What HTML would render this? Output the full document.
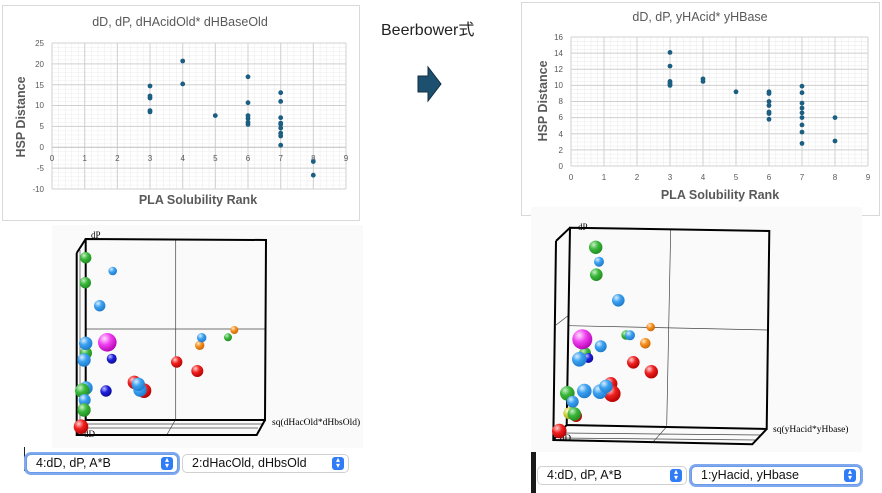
<!DOCTYPE html>
<html><head><meta charset="utf-8"><style>
body{margin:0;background:#fff;width:882px;height:493px;overflow:hidden;position:relative;font-family:"Liberation Sans","Noto Sans CJK JP",sans-serif}
.sel{position:absolute;height:17px;border:1px solid #d0d0d0;border-radius:5px;background:#fff;font-size:12.5px;line-height:17px;padding-left:9px;box-sizing:content-box;color:#111}
.sel.f{box-shadow:0 0 0 2px #7fa8ee;border-color:#6a9be8}
.sel i{position:absolute;right:4px;top:2px;width:12px;height:13px;background:#2f7cf6;border-radius:3px;color:#fff;font-size:8px;line-height:6px;text-align:center;font-style:normal}
</style></head><body>
<svg width="882" height="493" style="position:absolute;left:0;top:0" font-family="Liberation Sans, sans-serif">
<defs>
<pattern id="gl" x="52" y="43" width="6.533" height="4.171" patternUnits="userSpaceOnUse"><path d="M0 0V4.171M0 0H6.533" stroke="#e6e6e6" stroke-width="0.8" fill="none"/></pattern>
<pattern id="gr" x="571" y="37" width="6.6" height="4.03" patternUnits="userSpaceOnUse"><path d="M0 0V4.03M0 0H6.6" stroke="#e6e6e6" stroke-width="0.8" fill="none"/></pattern>
<radialGradient id="cg" cx="0.35" cy="0.3" r="0.75"><stop offset="0" stop-color="#c8f0c8"/><stop offset="0.45" stop-color="#3cb83c"/><stop offset="1" stop-color="#1e8a1e"/></radialGradient>
<radialGradient id="cb" cx="0.35" cy="0.3" r="0.75"><stop offset="0" stop-color="#d8eeff"/><stop offset="0.45" stop-color="#3aa0f0"/><stop offset="1" stop-color="#1e78c8"/></radialGradient>
<radialGradient id="cd" cx="0.35" cy="0.3" r="0.75"><stop offset="0" stop-color="#c0c0ff"/><stop offset="0.45" stop-color="#2020e0"/><stop offset="1" stop-color="#0a0a90"/></radialGradient>
<radialGradient id="cr" cx="0.35" cy="0.3" r="0.75"><stop offset="0" stop-color="#ffd0d0"/><stop offset="0.45" stop-color="#f02020"/><stop offset="1" stop-color="#b00000"/></radialGradient>
<radialGradient id="co" cx="0.35" cy="0.3" r="0.75"><stop offset="0" stop-color="#ffe8c8"/><stop offset="0.45" stop-color="#f59020"/><stop offset="1" stop-color="#c86400"/></radialGradient>
<radialGradient id="cm" cx="0.35" cy="0.3" r="0.75"><stop offset="0" stop-color="#ffe0ff"/><stop offset="0.45" stop-color="#f040f0"/><stop offset="1" stop-color="#b000b0"/></radialGradient>
<radialGradient id="cy" cx="0.35" cy="0.3" r="0.75"><stop offset="0" stop-color="#ffffd0"/><stop offset="0.45" stop-color="#d0d040"/><stop offset="1" stop-color="#a0a020"/></radialGradient>
</defs>

<rect x="2.5" y="5.5" width="357" height="215" fill="#fff" stroke="#d9d9d9"/>
<text x="180" y="26" font-size="12.5" fill="#595959" text-anchor="middle">dD, dP, dHAcidOld* dHBaseOld</text>
<rect x="52" y="43" width="294" height="146" fill="url(#gl)"/>
<g stroke="#d0d0d0" stroke-width="1">
<path d="M52 43H346M52 63.85H346M52 84.7H346M52 105.55H346M52 126.4H346M52 168.1H346M52 189H346"/>
<path d="M84.7 43V189M117.3 43V189M150 43V189M182.7 43V189M215.3 43V189M248 43V189M280.7 43V189M313.3 43V189M346 43V189M52 43V189"/>
</g>
<path d="M52 147.3H346" stroke="#bfbfbf"/>
<g font-size="8" fill="#595959" text-anchor="end">
<text x="44" y="46">25</text><text x="44" y="67">20</text><text x="44" y="88">15</text><text x="44" y="108">10</text><text x="44" y="129">5</text><text x="44" y="150">0</text><text x="44" y="171">-5</text><text x="44" y="192">-10</text>
</g>
<g font-size="8" fill="#595959" text-anchor="middle">
<text x="52" y="161">0</text><text x="84.7" y="161">1</text><text x="117.3" y="161">2</text><text x="150" y="161">3</text><text x="182.7" y="161">4</text><text x="215.3" y="161">5</text><text x="248" y="161">6</text><text x="280.7" y="161">7</text><text x="313.3" y="161">8</text><text x="346" y="161">9</text>
</g>
<text x="198" y="204" font-size="12.5" font-weight="bold" fill="#595959" text-anchor="middle">PLA  Solubility Rank</text>
<text transform="translate(25,117) rotate(-90)" font-size="12.5" font-weight="bold" fill="#595959" text-anchor="middle">HSP Distance</text>
<g fill="#1b5e82">
<circle cx="150" cy="86" r="2.4"/><circle cx="150" cy="96" r="2.4"/><circle cx="150" cy="98.1" r="2.4"/><circle cx="150" cy="110.6" r="2.4"/><circle cx="150" cy="111.9" r="2.4"/>
<circle cx="182.7" cy="61" r="2.4"/><circle cx="182.7" cy="83.9" r="2.4"/>
<circle cx="215.3" cy="115.6" r="2.4"/>
<circle cx="248" cy="76.8" r="2.4"/><circle cx="248" cy="102.7" r="2.4"/><circle cx="248" cy="115.6" r="2.4"/><circle cx="248" cy="118.5" r="2.4"/><circle cx="248" cy="122.3" r="2.4"/><circle cx="248" cy="124.4" r="2.4"/>
<circle cx="280.7" cy="92.7" r="2.4"/><circle cx="280.7" cy="101.4" r="2.4"/><circle cx="280.7" cy="117.7" r="2.4"/><circle cx="280.7" cy="123.1" r="2.4"/><circle cx="280.7" cy="124.4" r="2.4"/><circle cx="280.7" cy="128.1" r="2.4"/><circle cx="280.7" cy="133.1" r="2.4"/><circle cx="280.7" cy="136" r="2.4"/><circle cx="280.7" cy="145.2" r="2.4"/>
<circle cx="313.3" cy="161.5" r="2.4"/><circle cx="313.3" cy="175.2" r="2.4"/>
</g>

<text x="381" y="35" font-size="16" fill="#222" font-family="Liberation Sans, Noto Sans CJK JP, sans-serif">Beerbower式</text>
<path d="M418 76H428V67L441 84L428 101V92H418Z" fill="#1d4f6e" stroke="#0f2f44" stroke-width="1"/>

<rect x="521.5" y="2.5" width="358" height="213" fill="#fff" stroke="#d9d9d9"/>
<rect x="531" y="207" width="331" height="9" fill="#f7f7f7"/>
<text x="700" y="21" font-size="12.5" fill="#595959" text-anchor="middle">dD, dP, yHAcid* yHBase</text>
<rect x="571" y="37" width="297" height="129" fill="url(#gr)"/>
<g stroke="#d0d0d0" stroke-width="1">
<path d="M571 37H868M571 53.1H868M571 69.2H868M571 85.4H868M571 101.5H868M571 117.6H868M571 133.8H868M571 149.9H868M571 166H868"/>
<path d="M571 37V166M604 37V166M637 37V166M670 37V166M703 37V166M736 37V166M769 37V166M802 37V166M835 37V166M868 37V166"/>
</g>
<g font-size="8" fill="#595959" text-anchor="end">
<text x="563" y="40">16</text><text x="563" y="56">14</text><text x="563" y="72">12</text><text x="563" y="88">10</text><text x="563" y="104">8</text><text x="563" y="120">6</text><text x="563" y="137">4</text><text x="563" y="153">2</text><text x="563" y="169">0</text>
</g>
<g font-size="8" fill="#595959" text-anchor="middle">
<text x="571" y="180">0</text><text x="604" y="180">1</text><text x="637" y="180">2</text><text x="670" y="180">3</text><text x="703" y="180">4</text><text x="736" y="180">5</text><text x="769" y="180">6</text><text x="802" y="180">7</text><text x="835" y="180">8</text><text x="868" y="180">9</text>
</g>
<text x="720" y="199" font-size="12.5" font-weight="bold" fill="#595959" text-anchor="middle">PLA  Solubility Rank</text>
<text transform="translate(547,101) rotate(-90)" font-size="12.5" font-weight="bold" fill="#595959" text-anchor="middle">HSP Distance</text>
<g fill="#1b5e82">
<circle cx="670" cy="52.4" r="2.4"/><circle cx="670" cy="66.1" r="2.4"/><circle cx="670" cy="81.4" r="2.4"/><circle cx="670" cy="83" r="2.4"/><circle cx="670" cy="84.6" r="2.4"/><circle cx="670" cy="85.4" r="2.4"/>
<circle cx="703" cy="78.9" r="2.4"/><circle cx="703" cy="81.4" r="2.4"/>
<circle cx="736" cy="91.8" r="2.4"/>
<circle cx="769" cy="91.8" r="2.4"/><circle cx="769" cy="93.5" r="2.4"/><circle cx="769" cy="101.5" r="2.4"/><circle cx="769" cy="105.5" r="2.4"/><circle cx="769" cy="112" r="2.4"/><circle cx="769" cy="113.6" r="2.4"/><circle cx="769" cy="119.3" r="2.4"/>
<circle cx="802" cy="86.2" r="2.4"/><circle cx="802" cy="92.7" r="2.4"/><circle cx="802" cy="103.1" r="2.4"/><circle cx="802" cy="108" r="2.4"/><circle cx="802" cy="112.8" r="2.4"/><circle cx="802" cy="117.6" r="2.4"/><circle cx="802" cy="124.9" r="2.4"/><circle cx="802" cy="132.1" r="2.4"/><circle cx="802" cy="143.4" r="2.4"/>
<circle cx="835" cy="117.6" r="2.4"/><circle cx="835" cy="141" r="2.4"/>
</g>

<rect x="52" y="225" width="311" height="223" fill="#fafafa"/>
<g fill="none" stroke="#000">
<path d="M175.7 240V420M85.7 329H266M166.7 435L175.3 420M80 250V432M78 428H258M82 424H262" stroke-width="0.7" stroke="#444"/>
<path d="M85.7 239L266 240L265 420L85.7 420ZM76.7 253V435H256.7L265 420M76.7 253L85.7 239M76.7 435L85.7 420" stroke-width="2"/>
</g>
<text x="91" y="238" font-size="9" font-family="Liberation Serif, serif">dP</text>
<text x="84" y="437" font-size="9" font-family="Liberation Serif, serif">dD</text>
<text x="272" y="425" font-size="9.5" font-family="Liberation Serif, serif">sq(dHacOld*dHbsOld)</text>
<circle cx="85.7" cy="257.7" r="5.7" fill="url(#cg)"/>
<circle cx="112.7" cy="271" r="4.3" fill="url(#cb)"/>
<circle cx="85.3" cy="282.7" r="5.7" fill="url(#cg)"/>
<circle cx="99.7" cy="305.7" r="5.7" fill="url(#cb)"/>
<circle cx="234.3" cy="330" r="4" fill="url(#co)"/>
<circle cx="228" cy="337.3" r="4" fill="url(#cg)"/>
<circle cx="199.7" cy="345.3" r="4.7" fill="url(#co)"/>
<circle cx="201.7" cy="337.7" r="4.7" fill="url(#cb)"/>
<circle cx="86" cy="353" r="6" fill="url(#cg)"/>
<circle cx="85.7" cy="343.3" r="6.7" fill="url(#cb)"/>
<circle cx="84" cy="360" r="6.7" fill="url(#cb)"/>
<circle cx="107.3" cy="342.3" r="9.3" fill="url(#cm)"/>
<circle cx="111.7" cy="358.7" r="5" fill="url(#cd)"/>
<circle cx="176.7" cy="362" r="5.7" fill="url(#cr)"/>
<circle cx="197.3" cy="371" r="6" fill="url(#cr)"/>
<circle cx="106" cy="391" r="5.7" fill="url(#cd)"/>
<circle cx="134.3" cy="382.3" r="6.7" fill="url(#cr)"/>
<circle cx="144" cy="390.7" r="7.3" fill="url(#cr)"/>
<circle cx="140" cy="390" r="6.7" fill="url(#cb)"/>
<circle cx="138.3" cy="384.3" r="6.7" fill="url(#cb)"/>
<circle cx="86" cy="388" r="6.7" fill="url(#cb)"/>
<circle cx="82.3" cy="390.7" r="7.3" fill="url(#cg)"/>
<circle cx="84.7" cy="400" r="6" fill="url(#cb)"/>
<circle cx="84" cy="410" r="6.7" fill="url(#cg)"/>
<circle cx="81" cy="426.7" r="7.3" fill="url(#cr)"/>

<rect x="531" y="207" width="331" height="245" fill="#fafafa"/>
<g fill="none" stroke="#000">
<path d="M670.7 229L666.7 425.7M569.3 325.7L767.3 330M653.3 441.7L666.7 426.7M556 325L569 315M560 438L756 440M563 433L760 435" stroke-width="0.7" stroke="#444"/>
<path d="M570 227.7L769.3 231L766.7 429L566.7 425ZM556 241L553.3 440L752.3 444.3L766.7 429M556 241L570 227.7M553.3 440L566.7 425" stroke-width="2"/>
</g>
<text x="578" y="230" font-size="9" font-family="Liberation Serif, serif">dP</text>
<text x="560" y="441" font-size="9" font-family="Liberation Serif, serif">dD</text>
<text x="773" y="432" font-size="9.5" font-family="Liberation Serif, serif">sq(yHacid*yHbase)</text>
<circle cx="595.7" cy="247.3" r="6.7" fill="url(#cg)"/>
<circle cx="599" cy="261.7" r="5" fill="url(#cb)"/>
<circle cx="596.3" cy="274.7" r="6.3" fill="url(#cg)"/>
<circle cx="618.3" cy="300.3" r="6.3" fill="url(#cb)"/>
<circle cx="650.7" cy="327" r="4.3" fill="url(#co)"/>
<circle cx="626" cy="335" r="4.7" fill="url(#cg)"/>
<circle cx="630" cy="335.3" r="5" fill="url(#cb)"/>
<circle cx="645.3" cy="343.3" r="5.3" fill="url(#co)"/>
<circle cx="600.7" cy="346.3" r="6" fill="url(#cb)"/>
<circle cx="585" cy="353.3" r="6" fill="url(#cg)"/>
<circle cx="582.3" cy="339.3" r="10" fill="url(#cm)"/>
<circle cx="588.3" cy="358" r="5" fill="url(#cd)"/>
<circle cx="579.3" cy="359.3" r="7.3" fill="url(#cb)"/>
<circle cx="633.3" cy="362.3" r="6.3" fill="url(#cr)"/>
<circle cx="651.3" cy="371.7" r="6.7" fill="url(#cr)"/>
<circle cx="610.7" cy="383.7" r="6.7" fill="url(#cr)"/>
<circle cx="612.3" cy="393.7" r="8.3" fill="url(#cr)"/>
<circle cx="600" cy="391.7" r="7.3" fill="url(#cb)"/>
<circle cx="606" cy="386.3" r="6.7" fill="url(#cb)"/>
<circle cx="584.3" cy="391" r="7.3" fill="url(#cb)"/>
<circle cx="567.3" cy="393.3" r="7.3" fill="url(#cg)"/>
<circle cx="572.7" cy="401.7" r="6" fill="url(#cb)"/>
<circle cx="576" cy="416" r="6" fill="url(#cr)"/>
<circle cx="569.3" cy="413.3" r="6" fill="url(#cy)"/>
<circle cx="574.3" cy="414" r="6.7" fill="url(#cg)"/>
<circle cx="559.3" cy="431" r="7.3" fill="url(#cr)"/>

<rect x="24" y="447" width="1" height="24" fill="#222"/>
<rect x="531" y="452" width="5" height="41" fill="#1a1a1a"/>
</svg>
<div class="sel f" style="left:26px;top:454px;width:141px">4:dD, dP, A*B<i>▴<br>▾</i></div>
<div class="sel" style="left:182px;top:454px;width:156px">2:dHacOld, dHbsOld<i>▴<br>▾</i></div>
<div class="sel" style="left:537px;top:466px;width:139px">4:dD, dP, A*B<i>▴<br>▾</i></div>
<div class="sel f" style="left:691px;top:466px;width:159px">1:yHacid, yHbase<i>▴<br>▾</i></div>
</body></html>
